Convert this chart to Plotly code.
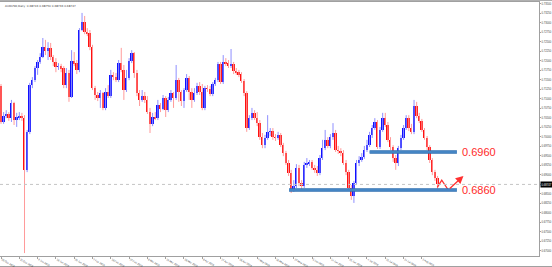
import plotly.graph_objects as go

# ---------------- data (AUDUSD daily) ----------------
open_ = [.7134,.7039,.7055,.7060,.7049,.7089,.7044,.7052,.7055,.7049,
         .6913,.7013,.7136,.7149,.7181,.7197,.7210,.7236,.7226,.7234,
         .7210,.7197,.7184,.7186,.7181,.7136,.7168,.7105,.7199,.7194,
         .7176,.7281,.7302,.7276,.7273,.7236,.7128,.7110,.7102,.7115,
         .7076,.7118,.7107,.7163,.7157,.7149,.7194,.7176,.7123,.7155,
         .7199,.7220,.7168,.7115,.7097,.7107,.7097,.7065,.7034,.7052,
         .7049,.7084,.7073,.7102,.7070,.7097,.7115,.7102,.7149,.7118,
         .7094,.7123,.7155,.7118,.7097,.7115,.7134,.7118,.7076,.7128,
         .7126,.7113,.7139,.7149,.7192,.7144,.7197,.7194,.7186,.7192,
         .7173,.7170,.7165,.7147,.7115,.7023,.7049,.7063,.7049,.7036,
         .6999,.6978,.6997,.7013,.7015,.6999,.6997,.7005,.6978,.6957,
         .6931,.6905,.6860,.6870,.6918,.6878,.6870,.6926,.6931,.6934,
         .6918,.6913,.6905,.6944,.6970,.6992,.6976,.6999,.7010,.6965,
         .6963,.6957,.6931,.6907,.6865,.6844,.6878,.6931,.6939,.6947,
         .6965,.6978,.7005,.7023,.7039,.6973,.7018,.7049,.7031,.6992,
         .6973,.6944,.6931,.6970,.6997,.7023,.7049,.7023,.7013,.7081,
         .7055,.7042,.7018,.6997,.6973,.6939,.6907,.6892]
high = [.7139,.7065,.7070,.7065,.7097,.7092,.7063,.7065,.7063,.7057,
        .7018,.7142,.7157,.7186,.7202,.7220,.7260,.7255,.7249,.7247,
        .7215,.7207,.7194,.7192,.7186,.7181,.7176,.7228,.7223,.7202,
        .7286,.7326,.7318,.7286,.7281,.7242,.7134,.7118,.7123,.7118,
        .7128,.7136,.7176,.7170,.7168,.7202,.7234,.7189,.7176,.7207,
        .7228,.7223,.7176,.7123,.7123,.7118,.7107,.7076,.7063,.7065,
        .7097,.7089,.7110,.7107,.7105,.7123,.7118,.7189,.7155,.7123,
        .7128,.7165,.7160,.7128,.7128,.7142,.7144,.7139,.7134,.7136,
        .7134,.7144,.7155,.7197,.7197,.7215,.7207,.7202,.7231,.7197,
        .7181,.7176,.7170,.7152,.7120,.7057,.7076,.7070,.7065,.7044,
        .7010,.7005,.7057,.7023,.7023,.7007,.7013,.7010,.6984,.6963,
        .6939,.6913,.6886,.6928,.6926,.6886,.6934,.6944,.6939,.6939,
        .6926,.6923,.6952,.6992,.7018,.6999,.7007,.7036,.7018,.6976,
        .6970,.6965,.6939,.6913,.6873,.6884,.6939,.6949,.6957,.6976,
        .6992,.7013,.7031,.7049,.7044,.7026,.7063,.7063,.7039,.6999,
        .6978,.6952,.6976,.7005,.7031,.7057,.7057,.7034,.7097,.7092,
        .7063,.7047,.7023,.7002,.6978,.6944,.6913,.6897]
low = [.7034,.7034,.7049,.7042,.7039,.7031,.7026,.7044,.7042,.6694,
       .6907,.7007,.7128,.7144,.7163,.7192,.7207,.7215,.7202,.7202,
       .7186,.7170,.7176,.7170,.7128,.7128,.7092,.7102,.7186,.7165,
       .7170,.7278,.7270,.7265,.7228,.7123,.7097,.7094,.7076,.7070,
       .7070,.7102,.7102,.7149,.7144,.7144,.7170,.7097,.7118,.7149,
       .7194,.7155,.7107,.7081,.7092,.7089,.7060,.7010,.7028,.7044,
       .7044,.7065,.7070,.7052,.7065,.7092,.7076,.7097,.7092,.7081,
       .7076,.7118,.7097,.7076,.7092,.7110,.7110,.7070,.7070,.7118,
       .7107,.7107,.7134,.7144,.7139,.7139,.7186,.7181,.7181,.7165,
       .7163,.7157,.7142,.7107,.7013,.7018,.7044,.7044,.7028,.6992,
       .6970,.6970,.6992,.7002,.6992,.6989,.6992,.6973,.6949,.6926,
       .6897,.6852,.6855,.6865,.6870,.6860,.6865,.6918,.6923,.6913,
       .6905,.6897,.6899,.6939,.6965,.6970,.6970,.6992,.6960,.6955,
       .6949,.6926,.6899,.6860,.6834,.6826,.6873,.6923,.6934,.6942,
       .6960,.6973,.6997,.7018,.6968,.6968,.7013,.7026,.6986,.6965,
       .6934,.6913,.6923,.6965,.6992,.7018,.7015,.7007,.7007,.7049,
       .7036,.7013,.6992,.6965,.6931,.6899,.6884,.6863]
close = [.7039,.7055,.7060,.7049,.7089,.7044,.7052,.7055,.7049,.6913,
         .7013,.7136,.7149,.7181,.7197,.7210,.7236,.7226,.7234,.7210,
         .7197,.7184,.7186,.7181,.7136,.7168,.7105,.7199,.7194,.7176,
         .7281,.7302,.7276,.7273,.7236,.7128,.7110,.7102,.7115,.7076,
         .7118,.7107,.7163,.7157,.7149,.7194,.7176,.7123,.7155,.7199,
         .7220,.7168,.7115,.7097,.7107,.7097,.7065,.7034,.7052,.7049,
         .7084,.7073,.7102,.7070,.7097,.7115,.7102,.7149,.7118,.7094,
         .7123,.7155,.7118,.7097,.7115,.7134,.7118,.7076,.7128,.7126,
         .7113,.7139,.7149,.7192,.7144,.7197,.7194,.7186,.7192,.7173,
         .7170,.7165,.7147,.7115,.7023,.7049,.7063,.7049,.7036,.6999,
         .6978,.6997,.7013,.7015,.6999,.6997,.7005,.6978,.6957,.6931,
         .6905,.6860,.6870,.6918,.6878,.6870,.6926,.6931,.6934,.6918,
         .6913,.6905,.6944,.6970,.6992,.6976,.6999,.7010,.6965,.6963,
         .6957,.6931,.6907,.6865,.6844,.6878,.6931,.6939,.6947,.6965,
         .6978,.7005,.7023,.7039,.6973,.7018,.7049,.7031,.6992,.6973,
         .6944,.6931,.6970,.6997,.7023,.7049,.7023,.7013,.7081,.7055,
         .7042,.7018,.6997,.6973,.6939,.6907,.6892,.6875]

x_tick_pos = [0, 7, 14, 21, 28, 35, 42, 49, 56, 63, 70, 77,
              84, 91, 98, 105, 112, 119, 126, 133, 140, 147, 154, 161]
x_tick_labels = ["20 Dec 2018", "31 Dec 2018", "9 Jan 2019", "18 Jan 2019", "29 Jan 2019",
                 "7 Feb 2019", "18 Feb 2019", "27 Feb 2019", "8 Mar 2019", "19 Mar 2019",
                 "28 Mar 2019", "8 Apr 2019", "17 Apr 2019", "26 Apr 2019", "7 May 2019",
                 "16 May 2019", "27 May 2019", "5 Jun 2019", "14 Jun 2019", "25 Jun 2019",
                 "4 Jul 2019", "15 Jul 2019", "24 Jul 2019", "2 Aug 2019"]
y_tick_vals = [0.735, 0.7325, 0.73, 0.7275, 0.725, 0.7225, 0.72, 0.7175, 0.715,
               0.7125, 0.71, 0.7075, 0.705, 0.7025, 0.70, 0.6975, 0.695, 0.6925,
               0.69, 0.6875, 0.685, 0.6825, 0.68, 0.6775, 0.675, 0.6725, 0.67]
y_tick_text = [f"{v:.5f}" for v in y_tick_vals]

title_text = "AUDUSD,Daily  0.68743 0.68750 0.68733 0.68747"
last_price = 0.68747

# drawn analysis levels: (price, label, start candle, end candle)
levels = [0.6960, 0.6860]
level_labels = ["0.6960", "0.6860"]
level_start = [141.0, 110.2]
level_end = 174.4
# drawn projection zigzag (candle index, price)
proj_idx = [166.9, 168.6, 171.1, 176.9]
proj_price = [0.6867, 0.6886, 0.6860, 0.6897]

assert len(open_) == len(high) == len(low) == len(close) == 168

# ---------------- figure ----------------
n = len(close)
idx = list(range(n))
bull = [c >= o for o, c in zip(open_, close)]

fig = go.Figure()

for sel, col in [(True, "#8f8fff"), (False, "#ff9a9a")]:
    xs, ys = [], []
    for i in idx:
        if bull[i] == sel:
            xs += [i, i, None]
            ys += [low[i], high[i], None]
    fig.add_trace(go.Scatter(x=xs, y=ys, mode="lines",
                             line=dict(color=col, width=1), hoverinfo="skip"))

fig.add_trace(go.Bar(
    x=idx,
    base=[min(o, c) for o, c in zip(open_, close)],
    y=[abs(c - o) for o, c in zip(open_, close)],
    marker=dict(color=["#1010ff" if b else "#ff1010" for b in bull], line=dict(width=0)),
    width=0.72,
))

# projection zigzag
fig.add_trace(go.Scatter(x=proj_idx[:3], y=proj_price[:3], mode="lines",
                         line=dict(color="#ff3030", width=1.3), hoverinfo="skip"))
fig.add_annotation(x=proj_idx[3], y=proj_price[3], ax=proj_idx[2], ay=proj_price[2],
                   xref="x", yref="y", axref="x", ayref="y", text="",
                   showarrow=True, arrowhead=2, arrowsize=1.2, arrowwidth=1.3,
                   arrowcolor="#ff3030")

shapes = []
# current price dotted line
shapes.append(dict(type="line", xref="paper", yref="y", x0=0, x1=1,
                   y0=last_price, y1=last_price,
                   line=dict(color="#c4c4c4", width=1, dash="dot")))
for lv, xs0 in zip(levels, level_start):
    shapes.append(dict(type="line", xref="x", yref="y", x0=xs0, x1=level_end,
                       y0=lv, y1=lv, line=dict(color="#2f6fb0", width=3.5)))
    shapes.append(dict(type="line", xref="x", yref="y", x0=xs0, x1=level_end,
                       y0=lv, y1=lv, line=dict(color="#5b9bd8", width=1.2)))
# outer frame lines
shapes.append(dict(type="line", xref="paper", yref="paper", x0=0, x1=1 + 13 / 539,
                   y0=-10.7 / 254, y1=-10.7 / 254, line=dict(color="#8a8a8a", width=1),
                   layer="below"))
shapes.append(dict(type="line", xref="paper", yref="paper", x0=0, x1=1 + 13 / 539,
                   y0=1 + 1.5 / 254, y1=1 + 1.5 / 254, line=dict(color="#b0b0b0", width=1),
                   layer="below"))

for lv, lt in zip(levels, level_labels):
    fig.add_annotation(x=level_end + 1.0, y=lv, xref="x", yref="y", text=lt,
                       showarrow=False, xanchor="left", yanchor="middle",
                       font=dict(family="Liberation Sans, Arial", size=11, color="#ff2a2a"))

fig.add_annotation(x=0.006, y=1, xref="paper", yref="paper", text=title_text,
                   showarrow=False, xanchor="left", yanchor="top",
                   font=dict(family="DejaVu Sans", size=2.8, color="#404040"))

fig.add_annotation(x=1, y=last_price, xref="paper", yref="y", text=f"{last_price:.5f}",
                   showarrow=False, xanchor="left", yanchor="middle",
                   bgcolor="#000000", borderpad=0.6, xshift=0.5,
                   font=dict(family="Liberation Sans, Arial", size=2.7, color="#ffffff"))

fig.update_layout(
    width=552, height=267, autosize=False,
    margin=dict(l=0, r=13, t=2, b=11, pad=0, autoexpand=False),
    showlegend=False,
    plot_bgcolor="#ffffff", paper_bgcolor="#ffffff",
    bargap=0,
    shapes=shapes,
    xaxis=dict(range=[-0.383, 205.8], tickmode="array", tickvals=x_tick_pos,
               ticktext=x_tick_labels, ticks="outside", ticklen=1.5, tickcolor="#a0a0a0",
               ticklabelposition="outside right", automargin=False,
               tickfont=dict(family="Liberation Sans, Arial", size=2.6, color="#404040"),
               showgrid=False, zeroline=False, showline=True, linecolor="#a0a0a0",
               linewidth=1, mirror=True, fixedrange=True),
    yaxis=dict(range=[0.66863, 0.73547], side="right", tickmode="array",
               tickvals=y_tick_vals, ticktext=y_tick_text, ticks="outside", ticklen=1,
               tickcolor="#a0a0a0", automargin=False,
               tickfont=dict(family="Liberation Sans, Arial", size=2.7, color="#404040"),
               showgrid=False, zeroline=False, showline=True, linecolor="#a0a0a0",
               linewidth=1, mirror=True, fixedrange=True),
)

fig.write_html("out.html")
